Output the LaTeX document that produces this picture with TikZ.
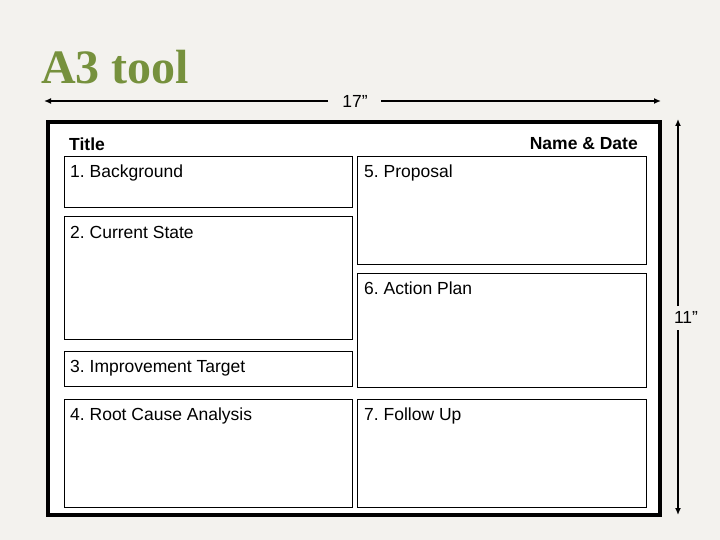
\documentclass[tikz,border=0pt]{standalone}
\usepackage{fontspec}
\setmainfont{Liberation Sans}
\newfontfamily\titlefont{Liberation Serif}
\usetikzlibrary{arrows.meta}
\definecolor{bg}{HTML}{F3F2EE}
\definecolor{olive}{HTML}{76913D}
\tikzset{
  panel/.style={draw=black, line width=0.9pt, fill=white},
  lbl/.style={anchor=base west, inner sep=0pt, font=\fontsize{17.5}{19}\selectfont},
  dim/.style={line width=1.8pt, -{Latex[length=7pt,width=6pt]}},
}
\begin{document}
\frenchspacing
\begin{tikzpicture}[x=1pt,y=-1pt]
\useasboundingbox[fill=bg] (0,0) rectangle (720,540);
% title
\node[anchor=base west, inner sep=0pt, text=olive, font=\titlefont\bfseries\fontsize{48}{50}\selectfont] (title) at (41,84) {A3 tool};
% outer sheet
\draw[line width=3.5pt, fill=white] (48,122) rectangle (660,515);
% panels
\draw[panel] (64,156) rectangle (352,207);
\draw[panel] (357,156) rectangle (646,264);
\draw[panel] (64,216) rectangle (352,339);
\draw[panel] (357,273) rectangle (646,387);
\draw[panel] (64,351) rectangle (352,386);
\draw[panel] (64,399) rectangle (352,507);
\draw[panel] (357,399) rectangle (646,507);
% labels
\node[lbl, font=\bfseries\fontsize{17.5}{19}\selectfont] (ttl) at (69,151) {Title};
\node[lbl, anchor=base east, font=\bfseries\fontsize{17.5}{19}\selectfont] (nd) at (638,150) {Name \& Date};
\node[lbl] (l1) at (70,178) {1. Background};
\node[lbl] (l5) at (364,178) {5. Proposal};
\node[lbl] (l2) at (70,238) {2. Current State};
\node[lbl] (l6) at (364,294) {6. Action Plan};
\node[lbl] (l3) at (70,372) {3. Improvement Target};
\node[lbl] (l4) at (70,420) {4. Root Cause Analysis};
\node[lbl] (l7) at (364,420) {7. Follow Up};
% dimension labels
\node[inner sep=0pt, font=\fontsize{17.5}{19}\selectfont] (w) at (355,101) {17”};
\node[inner sep=0pt, font=\fontsize{17.5}{19}\selectfont] (h) at (686,317) {11”};
\coordinate (wl) at (44,101);
\coordinate (wr) at (661,101);
\coordinate (ht) at (678,119);
\coordinate (hb) at (678,515);
\draw[dim] (328,101) -- (wl);
\draw[dim] (381,101) -- (wr);
\draw[dim] (678,306) -- (ht);
\draw[dim] (678,330) -- (hb);
\end{tikzpicture}
\end{document}
